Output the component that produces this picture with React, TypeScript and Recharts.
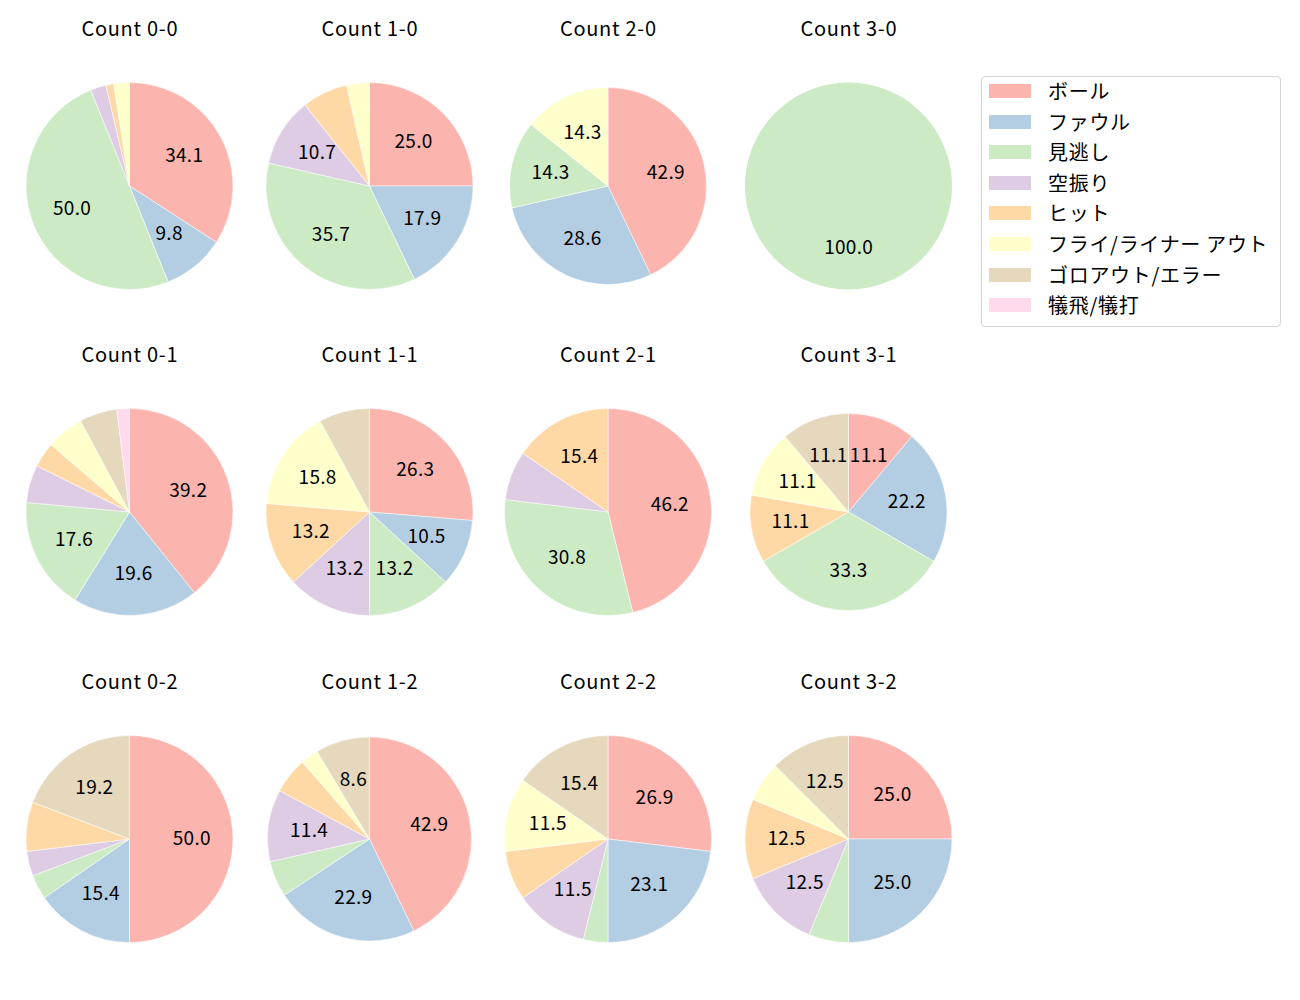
import React from "react";
import { PieChart, Pie, Cell } from "recharts";

const categories = [
  "ボール",
  "ファウル",
  "見逃し",
  "空振り",
  "ヒット",
  "フライ/ライナー アウト",
  "ゴロアウト/エラー",
  "犠飛/犠打",
];
const colors = ["#fbb4ae", "#b3cde3", "#ccebc5", "#decbe4", "#fed9a6", "#ffffcc", "#e5d8bd", "#fddaec"];

const count00 = [28, 8, 41, 2, 1, 2, 0, 0];
const count10 = [7, 5, 10, 3, 2, 1, 0, 0];
const count20 = [3, 2, 1, 0, 0, 1, 0, 0];
const count30 = [0, 0, 1, 0, 0, 0, 0, 0];
const count01 = [20, 10, 9, 3, 2, 3, 3, 1];
const count11 = [10, 4, 5, 5, 5, 6, 3, 0];
const count21 = [6, 0, 4, 1, 2, 0, 0, 0];
const count31 = [1, 2, 3, 0, 1, 1, 1, 0];
const count02 = [13, 4, 1, 1, 2, 0, 5, 0];
const count12 = [15, 8, 2, 4, 2, 1, 3, 0];
const count22 = [7, 6, 1, 3, 2, 3, 4, 0];
const count32 = [4, 4, 1, 2, 2, 1, 2, 0];

const FONT = "'Noto Sans CJK JP', 'DejaVu Sans', sans-serif";
const FS = 20;
const LS = 0.7;
const colX = [129.5, 369.5, 608, 848.5];
const rowY = [186, 512, 839];

const panels = [
  { title: "Count 0-0", values: count00, col: 0, row: 0, r: 103.5 },
  { title: "Count 1-0", values: count10, col: 1, row: 0, r: 103.5 },
  { title: "Count 2-0", values: count20, col: 2, row: 0, r: 98.5 },
  { title: "Count 3-0", values: count30, col: 3, row: 0, r: 103.5 },
  { title: "Count 0-1", values: count01, col: 0, row: 1, r: 103.5 },
  { title: "Count 1-1", values: count11, col: 1, row: 1, r: 103.5 },
  { title: "Count 2-1", values: count21, col: 2, row: 1, r: 103.5 },
  { title: "Count 3-1", values: count31, col: 3, row: 1, r: 98.5 },
  { title: "Count 0-2", values: count02, col: 0, row: 2, r: 103.5 },
  { title: "Count 1-2", values: count12, col: 1, row: 2, r: 102 },
  { title: "Count 2-2", values: count22, col: 2, row: 2, r: 103.5 },
  { title: "Count 3-2", values: count32, col: 3, row: 2, r: 103.5 },
];

const RAD = Math.PI / 180;

const renderPct = (props: any) => {
  const { cx, cy, midAngle, outerRadius, percent } = props;
  const pct = percent * 100;
  if (pct < 8) return null;
  const r = outerRadius * 0.6;
  const x = cx + r * Math.cos(-midAngle * RAD);
  const y = cy + r * Math.sin(-midAngle * RAD);
  return (
    <text
      x={x + 0.15}
      y={y - 2.5}
      textAnchor="middle"
      dominantBaseline="central"
      fill="#000"
      fontSize={19}
      letterSpacing={0.3}
      fontFamily={FONT}
    >
      {pct.toFixed(1)}
    </text>
  );
};

export default function App() {
  return (
    <div style={{ position: "absolute", left: 0, top: 0, width: 1300, height: 1000, background: "#fff", fontFamily: FONT }}>
      <PieChart width={1300} height={1000} margin={{ top: 0, right: 0, bottom: 0, left: 0 }}>
        {panels.map((p, i) => {
          const data = categories
            .map((name, k) => ({ name, value: p.values[k], color: colors[k] }))
            .filter((d) => d.value > 0);
          return (
            <Pie
              key={i}
              data={data}
              dataKey="value"
              nameKey="name"
              cx={colX[p.col]}
              cy={rowY[p.row]}
              outerRadius={p.r}
              startAngle={90}
              endAngle={-270}
              stroke={data.length > 1 ? "#fff" : "none"}
              strokeWidth={0.5}
              label={renderPct}
              labelLine={false}
              isAnimationActive={false}
            >
              {data.map((d, k) => (
                <Cell key={k} fill={d.color} />
              ))}
            </Pie>
          );
        })}
      </PieChart>
      {panels.map((p, i) => (
        <div
          key={i}
          style={{
            position: "absolute",
            left: colX[p.col] - 100 + LS / 2,
            width: 200,
            top: rowY[p.row] - 172,
            textAlign: "center",
            fontSize: FS,
            letterSpacing: LS,
            lineHeight: "28px",
            color: "#000",
          }}
        >
          {p.title}
        </div>
      ))}
      <div
        style={{
          position: "absolute",
          left: 981,
          top: 76,
          width: 298,
          height: 249,
          border: "1px solid #d5d5d5",
          borderRadius: 4,
          background: "#fff",
        }}
      >
        {categories.map((c, k) => (
          <div
            key={k}
            style={{ position: "absolute", left: 0, top: k * 30.6 - 1, height: 30, display: "flex", alignItems: "center" }}
          >
            <div style={{ marginLeft: 7, width: 42, height: 14, background: colors[k] }} />
            <div style={{ marginLeft: 17, fontSize: FS, letterSpacing: LS, lineHeight: "30px", whiteSpace: "nowrap", color: "#000" }}>{c}</div>
          </div>
        ))}
      </div>
    </div>
  );
}
